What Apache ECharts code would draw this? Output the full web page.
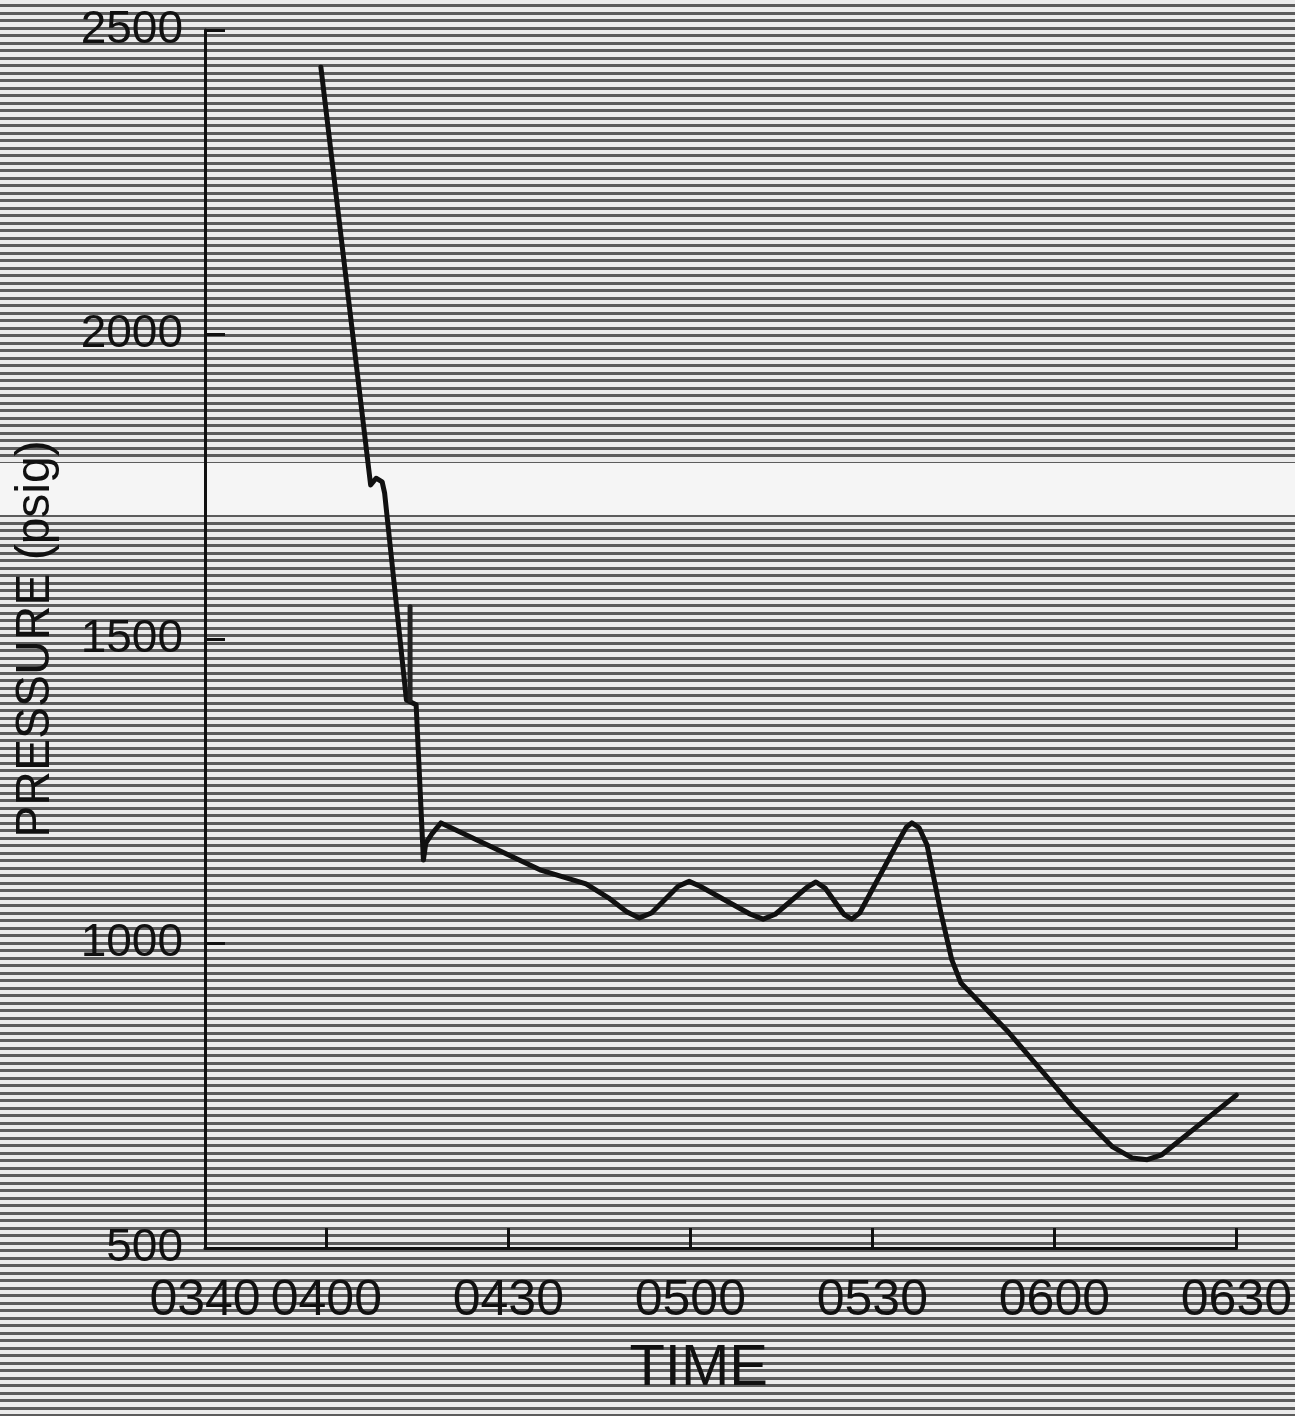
<!DOCTYPE html>
<html>
<head>
<meta charset="utf-8">
<script src="https://cdn.jsdelivr.net/npm/echarts@6/dist/echarts.min.js"></script>
<style>
html,body{margin:0;padding:0;}
body{background:repeating-linear-gradient(to bottom,#ebebeb 0px,#ebebeb 4.5px,#5c5c5c 4.5px,#5c5c5c 7.5px);}
#main{width:1295px;height:1416px;}
</style>
</head>
<body>
<div id="main"></div>
<script>
// 时间轴：从 03:40 起算的分钟数
var tickValues=[0,20,50,80,110,140,170];
var tickLabels=['0340','0400','0430','0500','0530','0600','0630'];
var pressureTicks=[500,1000,1500,2000,2500];

// 压力曲线
var timeMinutes=[19.1,27.3,28.2,29.2,29.6,33.2,34.8,36.0,36.4,37.4,38.9,55.2,62.8,66.5,69.5,71.6,73.6,78.0,79.8,81.6,89.9,92.0,94.0,99.2,100.7,102.2,105.3,106.6,107.9,114.4,115.6,116.5,117.7,119.0,121.3,123.1,124.6,132.1,143.0,149.6,152.8,155.3,157.7,170.0];
var pressure=[2439,1753,1764,1758,1740,1400,1392,1137,1165,1180,1198,1121,1098,1075,1052,1042,1050,1094,1102,1094,1048,1040,1048,1092,1101,1091,1048,1040,1050,1170,1191,1198,1190,1162,1050,973,935,858,732,666,648,645,653,751];

// 笔迹重叠的那一小段
var markTime=[33.8,33.8];
var markPressure=[1553,1400];

var font='"Liberation Sans Narrow","Liberation Sans",Arial,sans-serif';

var chart=echarts.init(document.getElementById('main'));

chart.setOption({
    backgroundColor:'transparent',
    animation:false,
    grid:{left:205,right:50,top:30,bottom:168},
    graphic:[{
        type:'rect',
        z:-10,
        silent:true,
        shape:{x:0,y:463,width:1295,height:52},
        style:{fill:'#f5f5f5'}
    }],
    xAxis:{
        type:'value',
        min:0,
        max:170,
        name:'TIME',
        nameLocation:'middle',
        nameGap:92,
        nameTextStyle:{fontFamily:font,fontSize:58,color:'#111',padding:[0,44,0,0]},
        axisLine:{lineStyle:{color:'#111',width:3}},
        axisTick:{inside:true,length:20,customValues:tickValues,lineStyle:{color:'#111',width:3}},
        axisLabel:{
            customValues:tickValues,
            margin:28,
            fontFamily:font,
            fontSize:50,
            color:'#111',
            formatter:function(v){
                var i=tickValues.indexOf(v);
                return i>=0?tickLabels[i]:'';
            }
        },
        splitLine:{show:false}
    },
    yAxis:{
        type:'value',
        min:500,
        max:2500,
        interval:500,
        name:'PRESSURE (psig)',
        nameLocation:'middle',
        nameGap:145,
        nameRotate:90,
        nameTextStyle:{fontFamily:font,fontSize:48,color:'#111'},
        axisLine:{show:true,lineStyle:{color:'#111',width:3}},
        axisTick:{show:true,inside:true,length:20,lineStyle:{color:'#111',width:3}},
        axisLabel:{
            margin:22,
            fontFamily:font,
            fontSize:46,
            color:'#111',
            formatter:function(v){
                return pressureTicks.indexOf(v)>=0?String(v):'';
            }
        },
        splitLine:{show:false}
    },
    series:[{
        name:'pressure',
        type:'line',
        data:timeMinutes.map(function(t,i){return [t,pressure[i]];}),
        showSymbol:false,
        smooth:false,
        lineStyle:{color:'#111',width:5,cap:'round',join:'round'}
    },{
        name:'mark',
        type:'line',
        data:markTime.map(function(t,i){return [t,markPressure[i]];}),
        showSymbol:false,
        lineStyle:{color:'#222',width:5,cap:'round'}
    }]
});
</script>
</body>
</html>
